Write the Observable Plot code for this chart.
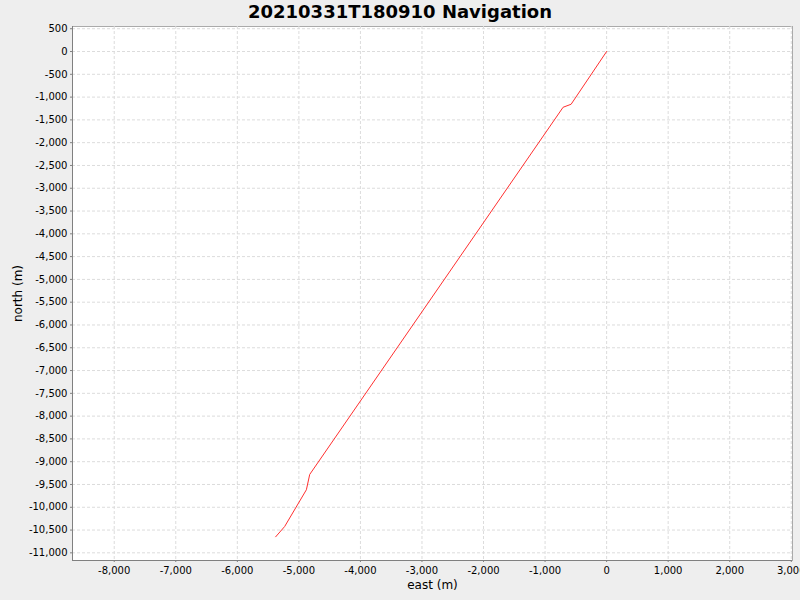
<!DOCTYPE html>
<html>
<head>
<meta charset="utf-8">
<script src="https://cdn.jsdelivr.net/npm/d3@7"></script>
<script src="https://cdn.jsdelivr.net/npm/@observablehq/plot@0.6"></script>
<style>
  html, body { margin: 0; padding: 0; background: #eeeeee; }
  #title { height: 20px; width: 800px; text-align: center; font: bold 18px "DejaVu Sans", sans-serif; line-height: 24px; color: #000; }
  #chart svg { display: block; }
</style>
</head>
<body>
<div id="title">20210331T180910 Navigation</div>
<div id="chart"></div>
<script>
const east  = [0, -577, -707, -4824, -4878, -5231, -5377];
const north = [0, -1157, -1223, -9280, -9616, -10422, -10648];
const xDomain = [-8678, 3020];
const yDomain = [-11168, 549];
const xTicks = d3.range(-8000, 3001, 1000);
const yTicks = d3.range(-11000, 501, 500);
const track = east.map((e, i) => ({east: e, north: north[i]}));
const fmt = d => d.toLocaleString("en-US");

const chart = Plot.plot({
  width: 800,
  height: 580,
  marginTop: 6,
  marginLeft: 72,
  marginRight: 8,
  marginBottom: 40,
  style: {background: "#eeeeee", fontFamily: "DejaVu Sans, sans-serif", fontSize: "10px", color: "#000"},
  x: {domain: xDomain},
  y: {domain: yDomain},
  marks: [
    Plot.frame({fill: "white", stroke: "#aaaaaa"}),
    Plot.gridX(xTicks, {stroke: "#dcdcdc", strokeOpacity: 1, strokeDasharray: "3,2"}),
    Plot.gridY(yTicks, {stroke: "#dcdcdc", strokeOpacity: 1, strokeDasharray: "3,2"}),
    Plot.ruleX([xDomain[0]], {stroke: "#808080"}),
    Plot.ruleY([yDomain[0]], {stroke: "#808080"}),
    Plot.axisX(xTicks, {tickFormat: fmt, tickSize: 2, tickPadding: 4, stroke: "#808080", label: "east (m)", labelAnchor: "center", labelArrow: "none", labelOffset: 28, fontSize: 10}),
    Plot.axisY(yTicks, {tickFormat: fmt, tickSize: 2, tickPadding: 3, stroke: "#808080", label: "north (m)", labelAnchor: "center", labelArrow: "none", labelOffset: 59, fontSize: 10}),
    Plot.line(track, {x: "east", y: "north", stroke: "#ff3030", strokeWidth: 1})
  ]
});
document.getElementById("chart").appendChild(chart);
chart.querySelectorAll("g[aria-label='x-axis label'] text, g[aria-label='y-axis label'] text").forEach(t => t.setAttribute("font-size", "12"));
</script>
</body>
</html>
